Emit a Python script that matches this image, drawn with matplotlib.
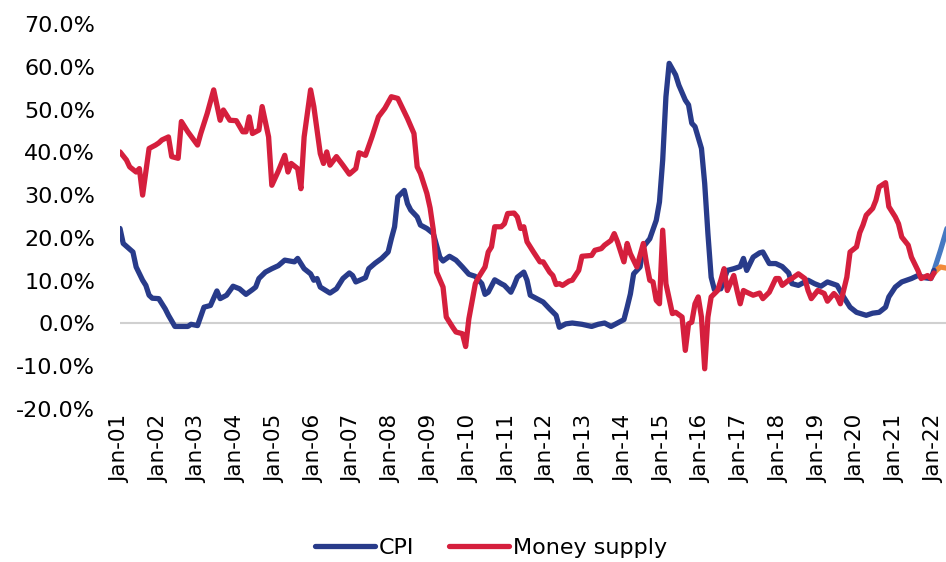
import matplotlib.pyplot as plt
from matplotlib.ticker import FuncFormatter

# month index: 0 = Jan-01
cpi_month = [0, 1, 4, 5, 7, 8, 9, 10, 12, 14, 15, 17, 21, 22, 24, 26, 28, 30, 31, 33,
             35, 37, 39, 41, 42, 43, 45, 47, 49, 51, 54, 55, 57, 59, 60, 61, 62, 65, 67, 69,
             71, 72, 73, 76, 77, 79, 81, 83, 84, 85, 86, 88, 89, 90, 92, 93, 95, 97, 99, 100,
             102, 104, 106, 108, 110, 112, 113, 114, 116, 118, 119, 121, 122, 123, 125, 126, 127, 129, 131, 133,
             135, 136, 138, 140, 143, 146, 148, 150, 152, 154, 156, 157, 158, 159, 161, 162, 164, 166, 167, 168,
             169, 170, 172, 173, 175, 176, 177, 178, 180, 181, 182, 183, 184, 186, 188, 190, 192, 193, 194, 196,
             198, 199, 201, 203, 205, 207, 208, 210, 213, 215, 217, 219, 222, 224, 226, 228, 231, 233, 235, 237,
             238, 240, 242, 245, 247, 249, 251, 252]
cpi = [22.2, 18.7, 16.7, 13.2, 10.1, 8.9, 6.6, 5.9, 5.8, 3.4, 1.9, -0.7, -0.7, -0.2, -0.5, 3.8, 4.2, 7.6, 5.8, 6.6,
       8.7, 8.1, 6.8, 7.9, 8.5, 10.5, 12.0, 12.8, 13.5, 14.8, 14.4, 15.2, 12.8, 11.6, 10.1, 10.5, 8.5, 7.1, 8.1, 10.5,
       11.8, 11.2, 9.7, 10.7, 12.8, 14.1, 15.2, 16.7, 19.8, 22.6, 29.6, 31.1, 28.0, 26.5, 24.9, 23.0, 22.2, 21.0, 15.5, 14.6,
       15.7, 14.8, 13.2, 11.5, 11.0, 9.3, 6.8, 7.3, 10.2, 9.3, 8.9, 7.3, 8.9, 10.8, 12.0, 10.1, 6.6, 5.8, 5.0, 3.4,
       1.9, -0.9, -0.1, 0.1, -0.2, -0.7, -0.2, 0.1, -0.7, 0.1, 0.9, 3.8, 6.9, 11.6, 13.2, 17.9, 19.8, 24.1, 28.4, 38.2,
       53.0, 60.8, 58.1, 55.7, 52.2, 51.1, 46.8, 46.0, 40.9, 32.7, 21.0, 10.8, 7.9, 8.1, 12.4, 12.8, 13.3, 15.2, 12.4, 15.5,
       16.5, 16.7, 14.0, 14.0, 13.3, 11.8, 9.3, 8.9, 10.1, 9.3, 8.7, 9.7, 8.9, 6.2, 3.8, 2.6, 1.9, 2.4, 2.6, 3.8,
       6.2, 8.5, 9.7, 10.5, 11.2, 10.7, 10.5, 12.4]
cpi_tail_month = [252, 254, 256]
cpi_tail = [12.4, 17.1, 22.2]

money_month = [0, 2, 3, 5, 6, 7, 9, 11, 12, 13, 15, 16, 18, 19, 21, 24, 25, 27, 29, 31,
               32, 34, 36, 38, 39, 40, 41, 43, 44, 46, 47, 49, 51, 52, 53, 55, 56, 57, 59, 60,
               62, 63, 64, 65, 67, 69, 71, 73, 74, 76, 78, 80, 82, 84, 86, 88, 89, 91, 92, 93,
               95, 96, 97, 98, 100, 101, 103, 104, 106, 107, 108, 110, 111, 113, 114, 115, 116, 118, 119, 120,
               122, 123, 124, 125, 126, 128, 130, 131, 133, 134, 135, 136, 137, 139, 140, 142, 143, 146, 147, 149,
               150, 152, 153, 154, 156, 157, 158, 160, 162, 163, 164, 165, 166, 167, 168, 169, 171, 172, 174, 175,
               176, 177, 178, 179, 180, 181, 182, 183, 185, 186, 187, 188, 190, 191, 192, 193, 194, 196, 198, 199,
               201, 203, 204, 205, 207, 208, 210, 212, 213, 214, 216, 218, 219, 221, 222, 223, 224, 225, 226, 228,
               229, 230, 231, 233, 234, 235, 237, 238, 240, 241, 242, 244, 245, 247, 248, 250, 251, 252]
money = [40.1, 38.2, 36.6, 35.4, 36.2, 30.0, 40.9, 41.7, 42.2, 42.9, 43.6, 39.0, 38.6, 47.2, 44.8, 41.7, 44.4, 49.1, 54.6, 47.5,
         49.9, 47.5, 47.4, 44.8, 44.8, 48.3, 44.4, 45.2, 50.7, 43.6, 32.3, 35.6, 39.3, 35.4, 37.4, 36.2, 31.5, 43.6, 54.6, 50.7,
         39.7, 37.4, 40.1, 37.0, 39.0, 37.0, 34.9, 36.2, 39.9, 39.3, 43.6, 48.3, 50.3, 53.0, 52.6, 49.5, 47.9, 44.4, 36.6, 35.1,
         30.4, 27.0, 21.8, 12.0, 8.5, 1.5, -0.9, -2.0, -2.4, -5.4, 1.1, 9.3, 10.8, 13.2, 16.7, 17.9, 22.6, 22.6, 23.3, 25.7,
         25.8, 24.9, 22.2, 22.6, 19.1, 16.7, 14.4, 14.4, 12.0, 11.2, 9.1, 9.3, 8.9, 9.9, 10.1, 12.4, 15.7, 15.9, 17.1, 17.5,
         18.3, 19.4, 21.0, 19.1, 14.4, 18.7, 16.3, 13.2, 18.7, 14.0, 10.1, 9.7, 5.4, 4.6, 21.8, 9.3, 2.3, 2.6, 1.5, -6.3,
         -0.1, 0.3, 4.6, 6.2, 1.5, -10.6, 1.5, 6.2, 7.7, 10.1, 12.8, 7.7, 11.2, 7.7, 4.6, 7.7, 7.3, 6.6, 7.1, 5.8,
         7.3, 10.5, 10.5, 8.9, 10.1, 10.5, 11.6, 10.5, 7.7, 5.8, 7.7, 7.0, 5.2, 7.0, 6.2, 4.6, 7.7, 10.8, 16.7, 17.9,
         21.2, 23.0, 25.3, 26.9, 28.8, 31.9, 32.9, 27.3, 24.9, 23.3, 20.2, 18.3, 15.5, 12.4, 10.5, 11.2, 10.5, 11.8]
money_tail_month = [252, 253, 254, 256]
money_tail = [11.8, 12.6, 13.2, 12.9]

tick_months = list(range(0, 253, 12))
tick_labels = ["Jan-%02d" % (y % 100) for y in range(2001, 2023)]

fig = plt.figure(figsize=(9.46, 5.62), dpi=100)
ax = fig.add_axes([120 / 946, 1 - 409 / 562, 1 - 120 / 946, (409 - 24) / 562])

ax.axhline(0, color="#d0d0d0", lw=1.5, zorder=1)
ax.plot(cpi_tail_month, cpi_tail, color="#4679c2", lw=3.8, solid_capstyle="round", zorder=2)
ax.plot(money_tail_month, money_tail, color="#f28a3a", lw=3.8, solid_capstyle="round", zorder=2)
ax.plot(cpi_month, cpi, color="#283b8a", lw=3.8, solid_capstyle="round", label="CPI", zorder=3)
ax.plot(money_month, money, color="#d51f3d", lw=3.8, solid_capstyle="round", label="Money supply", zorder=3)

ax.set_xlim(0, 255.7)
ax.set_ylim(-20, 70)
ax.set_yticks(range(-20, 71, 10))
ax.yaxis.set_major_formatter(FuncFormatter(lambda v, p: "%.1f%%" % v))
ax.set_xticks(tick_months)
ax.set_xticklabels(tick_labels, rotation=90)
ax.tick_params(length=0, labelsize=15.5)
ax.tick_params(axis="y", labelsize=16, pad=18)
ax.tick_params(axis="x", pad=4)
for s in ax.spines.values():
    s.set_visible(False)

leg = fig.legend(loc="center", bbox_to_anchor=(491 / 946, 1 - 548 / 562), ncol=2, frameon=False,
                 fontsize=16, handlelength=2.7, handletextpad=0.15, columnspacing=1.6)

fig.savefig("out.png", dpi=100)
